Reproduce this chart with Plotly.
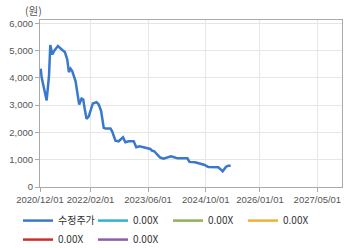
import plotly.graph_objects as go

dates = [
    "2020-12-07", "2020-12-15", "2021-01-26", "2021-02-15", "2021-02-26", "2021-03-15",
    "2021-03-29", "2021-05-01", "2021-06-07", "2021-06-29", "2021-07-19", "2021-08-02",
    "2021-08-16", "2021-08-30", "2021-09-27", "2021-10-28", "2021-11-17", "2021-12-01",
    "2021-12-12", "2021-12-29", "2022-01-17", "2022-02-20", "2022-03-23", "2022-04-11",
    "2022-05-01", "2022-05-23", "2022-06-07", "2022-07-19", "2022-08-02", "2022-08-30",
    "2022-09-26", "2022-11-02", "2022-11-22", "2022-12-19", "2023-01-31", "2023-02-22",
    "2023-03-22", "2023-05-09", "2023-06-20", "2023-07-04", "2023-07-24", "2023-08-15",
    "2023-09-12", "2023-10-10", "2023-11-07", "2023-12-11", "2024-01-08", "2024-02-05",
    "2024-04-29", "2024-05-16", "2024-07-02", "2024-08-13", "2024-09-16", "2024-10-22",
    "2025-01-14", "2025-02-06", "2025-02-20", "2025-03-20", "2025-04-08", "2025-04-29",
]
prices = [
    4335, 4010, 3170, 4070, 5200, 4860,
    4980, 5165, 5020, 4945, 4675, 4210,
    4335, 4250, 3880, 3020, 3245, 3210,
    2900, 2500, 2590, 3060, 3110, 3025,
    2780, 2170, 2140, 2140, 2040, 1700,
    1675, 1820, 1640, 1675, 1675, 1455,
    1490, 1430, 1395, 1335, 1310, 1200,
    1080, 1040, 1090, 1125, 1090, 1050,
    1050, 920, 905, 870, 815, 735,
    720, 635, 575, 735, 780, 780,
]

series_names = ["수정주가", "0.00X", "0.00X", "0.00X", "0.00X", "0.00X"]
series_colors = ["#3a78cc", "#2fb5c9", "#8cb354", "#f2ae3a", "#c9302c", "#8e5ba8"]

tick_dates = ["2020-12-01", "2022-02-01", "2023-06-01", "2024-10-01", "2026-01-01", "2027-05-01"]
tick_labels = ["2020/12/01", "2022/02/01", "2023/06/01", "2024/10/01", "2026/01/01", "2027/05/01"]
y_ticks = [0, 1000, 2000, 3000, 4000, 5000, 6000]

fig = go.Figure()
fig.add_trace(go.Scatter(x=dates, y=prices, mode="lines", name=series_names[0],
                         line=dict(color=series_colors[0], width=2.5)))
for name, color in zip(series_names[1:], series_colors[1:]):
    fig.add_trace(go.Scatter(x=[None], y=[None], mode="lines", name=name,
                             line=dict(color=color, width=2.5)))

font_main = "Liberation Sans, Arial, Noto Sans CJK KR, sans-serif"
fig.update_layout(
    width=360, height=248,
    margin=dict(l=40, r=18, t=20, b=61, autoexpand=False),
    paper_bgcolor="white", plot_bgcolor="white",
    font=dict(family=font_main, size=9.5, color="#555555"),
    showlegend=True,
    legend=dict(orientation="h", x=0.05, xref="container", xanchor="left",
                y=0.169, yref="container", yanchor="top",
                entrywidth=30, entrywidthmode="pixels", tracegroupgap=0,
                itemwidth=30,
                font=dict(family="Noto Sans CJK KR, Liberation Sans, sans-serif", size=10, color="#333333"),
                bgcolor="rgba(0,0,0,0)"),
    xaxis=dict(type="date", range=["2020-12-01", "2027-11-25"], automargin=False,
               tickvals=tick_dates, ticktext=tick_labels, tickangle=0,
               showgrid=True, gridcolor="#e6e6e6", gridwidth=1,
               showline=True, linecolor="#aaaaaa", linewidth=1, mirror=True,
               ticks="outside", ticklen=4, tickcolor="#aaaaaa",
               tickfont=dict(size=9.5, color="#555555"), zeroline=False),
    yaxis=dict(range=[0, 6120], tickvals=y_ticks, tickformat=",d", automargin=False,
               showgrid=True, gridcolor="#e6e6e6", gridwidth=1,
               showline=True, linecolor="#aaaaaa", linewidth=1, mirror=True,
               ticks="outside", ticklen=4, tickcolor="#aaaaaa",
               tickfont=dict(size=9.5, color="#555555"), zeroline=False),
    annotations=[dict(text="(원)", xref="paper", yref="paper", x=-0.022, y=1,
                      xanchor="center", yanchor="bottom", showarrow=False,
                      yshift=0,
                      font=dict(family="Noto Sans CJK KR, sans-serif", size=10.5, color="#555555"))],
)

fig.write_html("out.html")
